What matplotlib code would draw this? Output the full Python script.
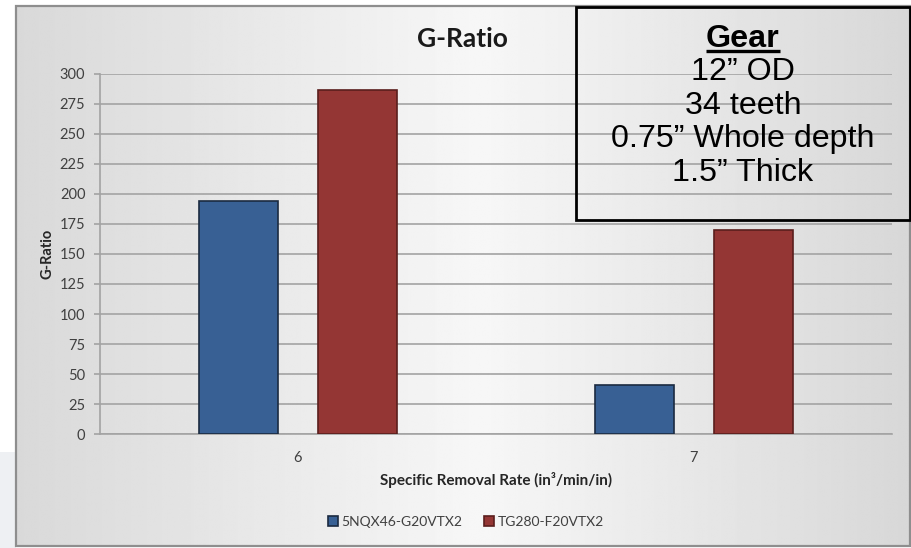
import numpy as np
import matplotlib
matplotlib.use("Agg")
import matplotlib.pyplot as plt
from matplotlib.patches import Rectangle

# ---- data -------------------------------------------------------------
categories = ["6", "7"]
series_names = ["5NQX46-G20VTX2", "TG280-F20VTX2"]
g_ratio_5nqx = [194, 41]
g_ratio_tg280 = [287, 170]
y_ticks = [0, 25, 50, 75, 100, 125, 150, 175, 200, 225, 250, 275, 300]
gear_lines = ["12\u201d OD", "34 teeth", "0.75\u201d Whole depth", "1.5\u201d Thick"]

W, H = 912, 548
FONT = ["Lato", "DejaVu Sans"]
ARIAL = ["Liberation Sans", "DejaVu Sans"]
plt.rcParams["font.family"] = FONT

fig = plt.figure(figsize=(W / 100, H / 100), dpi=100)
fig.patch.set_facecolor("white")

# ---- background layer (pixel coordinates) -----------------------------
bg = fig.add_axes([0, 0, 1, 1], zorder=0)
bg.set_xlim(0, W)
bg.set_ylim(H, 0)
bg.axis("off")

# light slide band outside the chart frame
bg.add_patch(Rectangle((0, 452), 16, H - 452, facecolor="#eef0f3", edgecolor="none"))
bg.add_patch(Rectangle((910.5, 450), 2, 62, facecolor="#1f6fb0", edgecolor="none"))

# chart area with a soft horizontal gradient
fx0, fx1, fy0, fy1 = 16, 910, 6, 546
xs = np.linspace(fx0, fx1, 400)
shade = np.interp(xs, [fx0, 480, fx1], [0.85, 0.968, 0.845])
grad = np.repeat(shade[None, :], 2, axis=0)
bg.imshow(grad, cmap="gray", vmin=0, vmax=1, extent=[fx0, fx1, fy1, fy0],
          aspect="auto", interpolation="bilinear")
bg.add_patch(Rectangle((fx0, fy0), fx1 - fx0, fy1 - fy0, facecolor="none",
                       edgecolor="#8e8e8e", linewidth=1.6))

# ---- main plot ---------------------------------------------------------
left, right, bottom, top = 100, 892, 434, 74
ax = fig.add_axes([left / W, 1 - bottom / H, (right - left) / W, (bottom - top) / H],
                  zorder=1)
ax.patch.set_alpha(0)

x = np.arange(len(categories))
bw = 0.2
off = 0.15
b1 = ax.bar(x - off, g_ratio_5nqx, bw, color="#386094", edgecolor="#1b2a40",
            linewidth=1.2, zorder=3, label=series_names[0])
b2 = ax.bar(x + off, g_ratio_tg280, bw, color="#943634", edgecolor="#5a1e1d",
            linewidth=1.2, zorder=3, label=series_names[1])

ax.set_xlim(-0.5, len(categories) - 0.5)
ax.set_ylim(0, 300)
ax.set_yticks(y_ticks)
ax.set_yticklabels([str(v) for v in y_ticks])
ax.set_xticks(x)
ax.set_xticklabels(categories)
ax.yaxis.grid(True, color="#a3a3a3", linewidth=1.2)
ax.set_axisbelow(True)
for s in ["top", "right"]:
    ax.spines[s].set_visible(False)
for s in ["left", "bottom"]:
    ax.spines[s].set_color("#a3a3a3")
    ax.spines[s].set_linewidth(1.2)
ax.tick_params(axis="y", length=4, width=1.2, color="#a3a3a3", labelsize=10.5,
               labelcolor="#404040", pad=6.5)
ax.tick_params(axis="x", length=0, labelsize=10.5, labelcolor="#404040", pad=12)

# axis titles and chart title
fig.text(496 / W, 1 - 485 / H, "Specific Removal Rate (in\u00b3/min/in)",
         ha="center", va="baseline", fontsize=11, fontweight="bold",
         color="#262626")
fig.text(48 / W, 1 - 254 / H, "G-Ratio", rotation=90, ha="center", va="center",
         fontsize=10.5, fontweight="bold", color="#262626")
fig.text(462.5 / W, 1 - 47 / H, "G-Ratio", ha="center", va="baseline",
         fontsize=19, fontweight="bold", color="#1a1a1a")

fig.legend(handles=[b1, b2], labels=series_names, loc="center",
           bbox_to_anchor=(466 / W, 1 - 522 / H), ncol=2, frameon=False,
           fontsize=10, handlelength=0.7, handleheight=0.7, handletextpad=0.25,
           columnspacing=1.6, labelcolor="#404040")

# ---- gear spec box (overlay, pixel coordinates) -------------------------
ov = fig.add_axes([0, 0, 1, 1], zorder=2)
ov.set_xlim(0, W)
ov.set_ylim(H, 0)
ov.axis("off")
ov.patch.set_alpha(0)
ov.add_patch(Rectangle((576, 7), 334, 213, facecolor="none", edgecolor="black",
                       linewidth=2))
gx = 743
ov.text(gx, 46.7, "Gear", ha="center", va="baseline", fontsize=23.2,
        fontweight="bold", family=ARIAL, color="black")
ov.plot([706, 780], [50.5, 50.5], color="black", linewidth=2.4,
        solid_capstyle="butt")
for i, line in enumerate(gear_lines):
    ov.text(gx, 80.3 + i * 33.6, line, ha="center", va="baseline", fontsize=23.2,
            family=ARIAL, color="black")

fig.savefig("out.png", dpi=100)
